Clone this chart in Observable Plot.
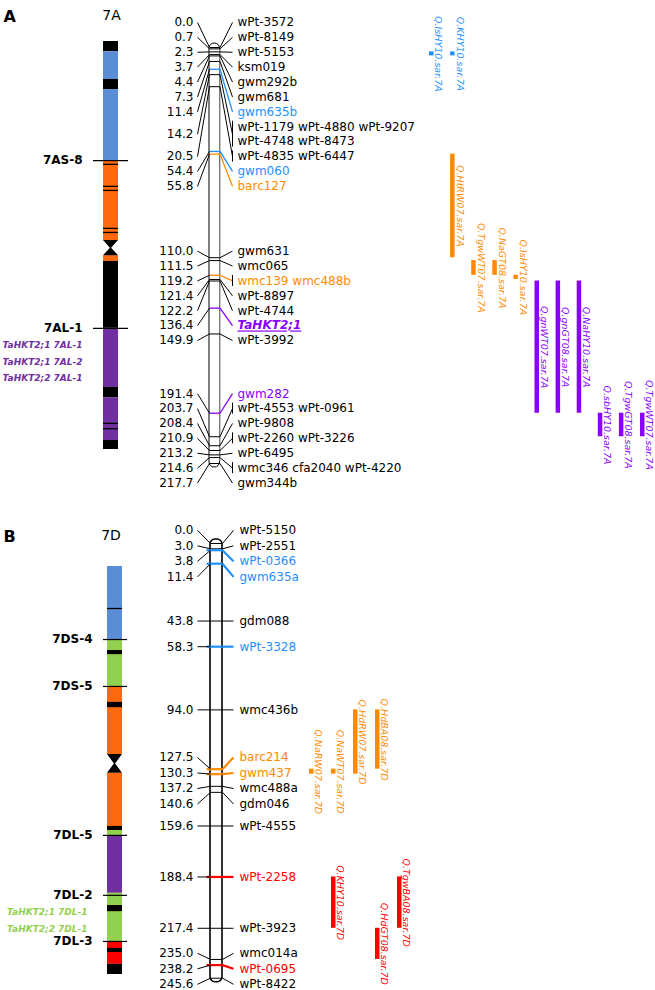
<!DOCTYPE html>
<html><head><meta charset="utf-8">
<script src="https://cdn.jsdelivr.net/npm/d3@7"></script>
<script src="https://cdn.jsdelivr.net/npm/@observablehq/plot@0.6"></script>
<style>
body{margin:0;background:#fff;font-family:"DejaVu Sans",Verdana,sans-serif}
#wrap{position:relative;width:655px;height:990px;overflow:hidden}
.panel{position:absolute;left:0;width:655px}
.panel svg{position:absolute;left:0;top:0}
</style></head><body><div id="wrap"></div>
<script>
// ---------------- DATA ----------------
// Colour classes: "k" plain, "grpB" blue, "grpO" orange, "grpP" purple, "grpG" green, "grpR" red, "band" black band
// Panel A: linkage map of 7A (cM), marker names (rows), colour class
const mapA_cM = [0.0,0.7,2.3,3.7,4.4,7.3,11.4,14.2,20.5,54.4,55.8,110.0,111.5,119.2,121.4,122.2,136.4,149.9,191.4,203.7,208.4,210.9,213.2,214.6,217.7];
const mapA_names = [["wPt-3572"],["wPt-8149"],["wPt-5153"],["ksm019"],["gwm292b"],["gwm681"],["gwm635b"],
  ["wPt-1179 wPt-4880 wPt-9207","wPt-4748 wPt-8473"],["wPt-4835 wPt-6447"],["gwm060"],["barc127"],["gwm631"],["wmc065"],
  ["wmc139 wmc488b"],["wPt-8897"],["wPt-4744"],["TaHKT2;1"],["wPt-3992"],["gwm282"],["wPt-4553 wPt-0961"],["wPt-9808"],
  ["wPt-2260 wPt-3226"],["wPt-6495"],["wmc346 cfa2040 wPt-4220"],["gwm344b"]];
const mapA_class = ["k","k","k","k","k","k","grpB","k","k","grpB","grpO","k","k","grpO","k","k","grpP","k","grpP","k","k","k","k","k","k"];

const qtlA_name = ["Q.IsHY10.sar.7A","Q.KHY10.sar.7A","Q.HtRW07.sar.7A","Q.TgwWT07.sar.7A","Q.NaGT08.sar.7A","Q.IsHY10.sar.7A",
  "Q.gnWT07.sar.7A","Q.gnGT08.sar.7A","Q.NaHY10.sar.7A","Q.sbHY10.sar.7A","Q.TgwGT08.sar.7A","Q.TgwWT07.sar.7A"];
const qtlA_from = [2.3,2.3,55.8,111.5,111.5,119.2,122.2,122.2,122.2,191.4,191.4,191.4];
const qtlA_to   = [4.4,4.4,110.0,119.2,119.2,121.4,191.4,191.4,191.4,203.7,203.7,203.7];
const qtlA_class = ["grpB","grpB","grpO","grpO","grpO","grpO","grpP","grpP","grpP","grpP","grpP","grpP"];
const qtlA_lane = [0,1,1,2,3,4,5,6,7,8,9,10];

// Panel A ideogram (percent of chromosome length)
const ideoA_from = [0,2.5,9.3,11.8,29.2,52.5,53.9,70.3,84.8,87.3,97.8];
const ideoA_to   = [2.5,9.3,11.8,29.2,48.8,53.9,70.3,84.8,87.3,97.8,100];
const ideoA_type = ["band","grpB","band","grpB","grpO","grpO","band","grpP","band","grpP","band"];
const ideoA_lines = [30.1,35.5,36.5,45.8,46.8,93.6,94.9];
const ideoA_cen = [48.8,52.5];
const binA_name = ["7AS-8","7AL-1"];
const binA_pos = [29.2,70.3];
const geneA = ["TaHKT2;1 7AL-1","TaHKT2;1 7AL-2","TaHKT2;2 7AL-1"];
const geneA_bin = "7AL-1";

// Panel B: linkage map of 7D
const mapB_cM = [0.0,3.0,3.8,11.4,43.8,58.3,94.0,127.5,130.3,137.2,140.6,159.6,188.4,217.4,235.0,238.2,245.6];
const mapB_names = [["wPt-5150"],["wPt-2551"],["wPt-0366"],["gwm635a"],["gdm088"],["wPt-3328"],["wmc436b"],["barc214"],["gwm437"],
  ["wmc488a"],["gdm046"],["wPt-4555"],["wPt-2258"],["wPt-3923"],["wmc014a"],["wPt-0695"],["wPt-8422"]];
const mapB_class = ["k","k","grpB","grpB","k","grpB","k","grpO","grpO","k","k","k","grpR","k","k","grpR","k"];

const qtlB_name = ["Q.NaRW07.sar.7D","Q.NaWT07.sar.7D","Q.HdRW07.sar.7D","Q.HdBA08.sar.7D","Q.KHY10.sar.7D","Q.HdGT08.sar.7D","Q.TgwBA08.sar.7D"];
const qtlB_from = [127.5,127.5,94.0,94.0,188.4,217.4,188.4];
const qtlB_to   = [130.3,130.3,130.3,127.5,217.4,235.0,217.4];
const qtlB_class = ["grpO","grpO","grpO","grpO","grpR","grpR","grpR"];
const qtlB_lane = [0,1,2,3,1,3,4];

// Panel B ideogram
const ideoB_from = [0,17.9,29.4,50.7,64.7,66.0,80.1,91.9,97.5, 20.6,33.3,63.7,83.1,93.6];
const ideoB_to   = [17.9,29.4,46.1,64.7,66.0,80.1,91.9,97.5,100, 21.6,34.6,64.7,84.6,94.6];
const ideoB_type = ["grpB","grpG","grpO","grpO","grpG","grpP","grpG","grpR","band","band","band","band","band","band"];
const ideoB_lines = [10.3];
const ideoB_cen = [46.1,50.7];
const binB_name = ["7DS-4","7DS-5","7DL-5","7DL-2","7DL-3"];
const binB_pos = [17.9,29.4,65.9,80.6,91.9];
const geneB = ["TaHKT2;1 7DL-1","TaHKT2;2 7DL-1"];
const geneB_bin = "7DL-2";

// ---------------- STYLE ----------------
const FONT = '"DejaVu Sans", Verdana, sans-serif';
const mapColor = {type:"ordinal", domain:["k","grpB","grpO","grpP","grpR"], range:["#000000","#1E90FF","#FF8A00","#8A00FF","#FF0000"]};
const ideoColor = {type:"ordinal", domain:["band","grpB","grpO","grpP","grpG","grpR"], range:["#000000","#5B8DD5","#FF6A10","#7030A0","#92D050","#FF0000"]};

function layoutLabels(cM, nrows, y, sp, minTop){
  const desired = cM.map(c => y(c));
  let clusters = cM.map((c,i) => ({items:[i]}));
  const place = c => {
    const a = desired[c.items[0]], b = desired[c.items[c.items.length-1]];
    c.h = d3.sum(c.items, i => nrows[i]) * sp;
    c.top = Math.max(minTop, (a+b)/2 - c.h/2);
  };
  clusters.forEach(place);
  for (let changed = true; changed;) {
    changed = false;
    for (let i = 0; i < clusters.length-1; i++) {
      if (clusters[i].top + clusters[i].h > clusters[i+1].top + 0.01) {
        clusters[i].items = clusters[i].items.concat(clusters[i+1].items);
        clusters.splice(i+1,1); place(clusters[i]); changed = true; break;
      }
    }
  }
  const out = [];
  clusters.forEach(c => { let t = c.top; c.items.forEach(i => {
    out[i] = {rowsY: d3.range(nrows[i]).map(k => t + sp*(k+0.5)), center: t + nrows[i]*sp/2};
    t += nrows[i]*sp; }); });
  return out;
}

function mapPlot(o){
  const maxcM = d3.max(o.cM);
  const y = d3.scaleLinear().domain([0, maxcM]).range(o.yRange);
  const nrows = o.names.map(n => n.length);
  const lay = layoutLabels(o.cM, nrows, y, o.sp, o.minTop);
  const rows=[], cmLabels=[], conn=[], ticks=[], brackets=[];
  o.cM.forEach((c,i) => {
    const L = lay[i], yc = y.invert(L.center);
    L.rowsY.forEach((ry,k) => rows.push({y:y.invert(ry), text:o.names[i][k], cls:o.cls[i], gene:o.names[i][k].startsWith("TaHKT")}));
    cmLabels.push({y:yc, text:c.toFixed(1)});
    conn.push({cm:c, yl:yc, cls:o.cls[i]});
    ticks.push({cm:c, cls:o.cls[i]});
    if (nrows[i] > 1 || o.names[i][0].includes(" "))
      brackets.push({y1:y.invert(L.rowsY[0]-5.5), y2:y.invert(L.rowsY[nrows[i]-1]+5.5)});
  });
  const qtls = o.qName.map((n,i) => ({name:n, from:o.qFrom[i], to:o.qTo[i], cls:o.qCls[i], lane:o.qLane[i]}));
  const qx = l => o.qX0 + l*o.qStep;
  const k = o.k;
  const marks = [
    Plot.rect([0], {x1:k.barL, x2:k.barR, y1:0, y2:maxcM, rx:5, insetTop:-4, insetBottom:-4, fill:"white", stroke:"black", strokeWidth:k.barW}),
  ];
  if (o.greyRight) marks.push(Plot.ruleX([k.barR], {y1:1, y2:maxcM-1, stroke:"#b0b0b0", strokeWidth:1.4}));
  marks.push(
    Plot.link(ticks.filter(d=>d.cls==="k"), {x1:k.barL, x2:k.barR, y1:"cm", y2:"cm", stroke:"black", strokeWidth:1}),
    Plot.link(ticks.filter(d=>d.cls!=="k"), {x1:k.barL - k.cExt, x2:k.barR, y1:"cm", y2:"cm", stroke:"cls", strokeWidth:k.cW}),
    Plot.link(conn, {x1:k.connL, y1:"yl", x2:k.barL, y2:"cm", stroke:"black", strokeWidth:1}),
    Plot.link(conn.filter(d=>d.cls==="k"), {x1:k.barR, y1:"cm", x2:k.connR, y2:"yl", stroke:"black", strokeWidth:1}),
    Plot.link(conn.filter(d=>d.cls!=="k"), {x1:k.barR, y1:"cm", x2:k.connR, y2:"yl", stroke:"cls", strokeWidth:k.cW}),
    Plot.ruleX(brackets, {x:k.connR, y1:"y1", y2:"y2", stroke:"black", strokeWidth:1}),
    Plot.text(cmLabels, {x:k.cmX, y:"y", text:"text", textAnchor:"end", fontSize:12, fill:"black"}),
    Plot.text(rows.filter(d=>!d.gene), {x:k.nameX, y:"y", text:"text", textAnchor:"start", fontSize:12, fill:"cls"}),
    Plot.text(rows.filter(d=>d.gene), {x:k.nameX, y:"y", text:"text", textAnchor:"start", fontSize:12, fill:"cls", fontWeight:"bold", fontStyle:"italic"}),
    Plot.rect(qtls, {x1:d=>qx(d.lane)-2, x2:d=>qx(d.lane)+2.5, y1:"from", y2:"to", fill:"cls"}),
    Plot.text(qtls, {x:d=>qx(d.lane)+7, y:d=>(d.from+d.to)/2, text:"name", rotate:90, fill:"cls", fontStyle:"italic", fontSize:9.5})
  );
  const svg = Plot.plot({
    width:655, height:o.height, margin:0,
    x:{type:"linear", domain:[0,655], range:[0,655], axis:null},
    y:{type:"linear", domain:[0,maxcM], range:o.yRange, axis:null},
    color:mapColor,
    style:{fontFamily:FONT, fontSize:"12px", background:"white", overflow:"visible"},
    marks
  });
  d3.select(svg).selectAll("text").filter(function(){ return this.textContent.startsWith("TaHKT"); })
    .attr("text-decoration","underline");
  return svg;
}

function ideoPlot(o){
  const y = d3.scaleLinear().domain([0,100]).range(o.yRange);
  const bands = o.from.map((f,i) => ({from:f, to:o.to[i], type:o.type[i]}));
  const cx = (o.x1+o.x2)/2, hw = (o.x2-o.x1)/2;
  const cen = [{y:o.cen[0], w:hw}, {y:(o.cen[0]+o.cen[1])/2, w:0.6}, {y:o.cen[1], w:hw}];
  const bins = o.binName.map((n,i) => ({name:n, pos:o.binPos[i]}));
  const anchor = o.binPos[o.binName.indexOf(o.geneBin)];
  const genes = o.genes.map((g,i) => ({name:g, y:y.invert(y(anchor) + 17 + i*16.3)}));
  return Plot.plot({
    width:150, height:o.height, margin:0,
    x:{type:"linear", domain:[0,150], range:[0,150], axis:null},
    y:{type:"linear", domain:[0,100], range:o.yRange, axis:null},
    color:ideoColor,
    style:{fontFamily:FONT, fontSize:"12px", background:"transparent", overflow:"visible"},
    marks:[
      Plot.rect(bands, {x1:o.x1, x2:o.x2, y1:"from", y2:"to", fill:"type"}),
      Plot.ruleY(o.lines, {x1:o.x1, x2:o.x2, y:d=>d, stroke:"black", strokeWidth:1.3}),
      Plot.areaX(cen, {y:"y", x1:d=>cx-d.w, x2:d=>cx+d.w, fill:"black", curve:"linear"}),
      Plot.ruleY(bins, {y:"pos", x1:o.binL, x2:o.binR, stroke:"black", strokeWidth:1.2}),
      Plot.text(bins, {y:"pos", x:o.binTextX, text:"name", textAnchor:"end", fontWeight:"bold", fontSize:12, fill:"black"}),
      Plot.text(genes, {y:"y", x:o.geneTextX, text:"name", textAnchor:"end", fontWeight:"bold", fontStyle:"italic", fontSize:9, fill:o.geneColor}),
      Plot.text([o.letter], {frameAnchor:"top-left", dx:3, dy:o.headY, text:d=>d, textAnchor:"start", fontWeight:"bold", fontSize:16, fill:"black"}),
      Plot.text([o.chrom], {frameAnchor:"top-left", dx:o.chromX, dy:o.headY, text:d=>d, textAnchor:"middle", fontSize:14, fill:"black"})
    ]
  });
}

// ---------------- BUILD ----------------
const wrap = document.getElementById("wrap");
function panel(top, h, mapSvg, ideoSvg){
  const div = document.createElement("div");
  div.className = "panel"; div.style.top = top+"px"; div.style.height = h+"px";
  div.appendChild(mapSvg); div.appendChild(ideoSvg); wrap.appendChild(div);
}

panel(0, 490,
  mapPlot({cM:mapA_cM, names:mapA_names, cls:mapA_class, qName:qtlA_name, qFrom:qtlA_from, qTo:qtlA_to, qCls:qtlA_class, qLane:qtlA_lane,
    height:490, yRange:[47,463], sp:14.9, minTop:14.5, qX0:431, qStep:21.1, greyRight:true,
    k:{barL:209, barR:219.5, barW:1, cmX:193, connL:197, connR:232, nameX:237, cExt:0, cW:1.3}}),
  ideoPlot({from:ideoA_from, to:ideoA_to, type:ideoA_type, lines:ideoA_lines, cen:ideoA_cen, binName:binA_name, binPos:binA_pos,
    genes:geneA, geneBin:geneA_bin, geneColor:"#7030A0", height:490, yRange:[41,449], x1:103, x2:118,
    binL:93, binR:128, binTextX:82, geneTextX:82, letter:"A", chrom:"7A", chromX:111, headY:10})
);

panel(490, 500,
  mapPlot({cM:mapB_cM, names:mapB_names, cls:mapB_class, qName:qtlB_name, qFrom:qtlB_from, qTo:qtlB_to, qCls:qtlB_class, qLane:qtlB_lane,
    height:500, yRange:[53,487.7], sp:15.5, minTop:0, qX0:311, qStep:22, greyRight:false,
    k:{barL:210, barR:222, barW:1.6, cmX:193, connL:197, connR:233, nameX:239, cExt:4, cW:2.2}}),
  ideoPlot({from:ideoB_from, to:ideoB_to, type:ideoB_type, lines:ideoB_lines, cen:ideoB_cen, binName:binB_name, binPos:binB_pos,
    genes:geneB, geneBin:geneB_bin, geneColor:"#92D050", height:500, yRange:[76,484], x1:107, x2:122,
    binL:103, binR:127, binTextX:92, geneTextX:87, letter:"B", chrom:"7D", chromX:110.5, headY:40})
);
</script></body></html>
